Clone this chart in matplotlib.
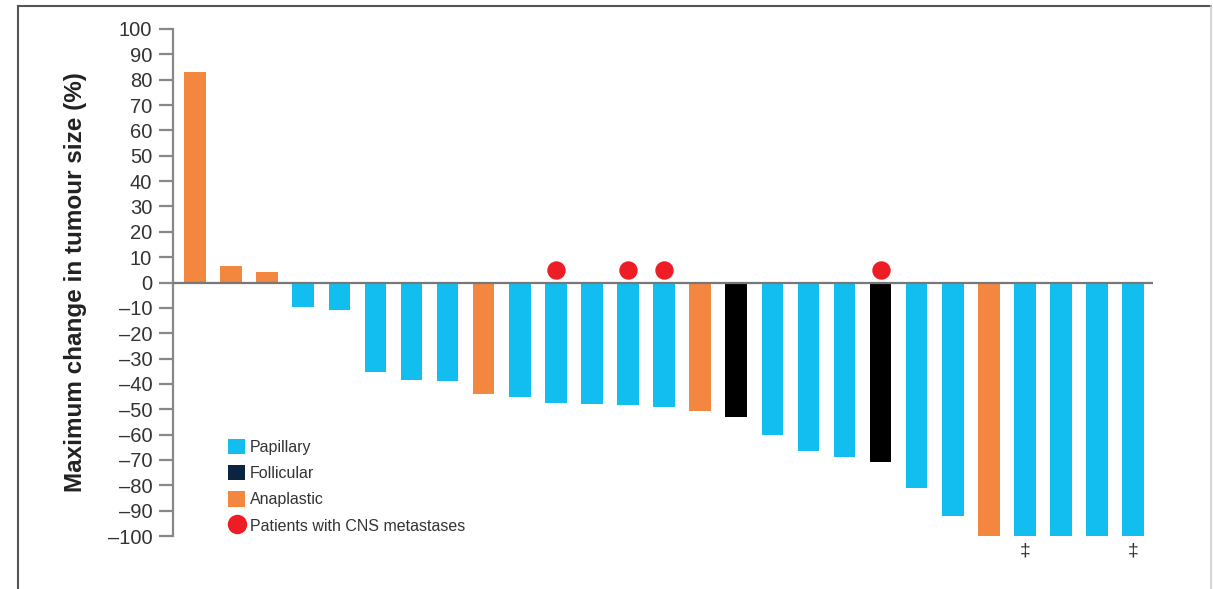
import numpy as np
import matplotlib
matplotlib.use('Agg')
import matplotlib.pyplot as plt
from matplotlib.patches import Patch
from matplotlib.lines import Line2D

plt.rcParams['font.family'] = ['Liberation Sans', 'DejaVu Sans']

# maximum change in tumour size per patient (%)
values = [83, 6.5, 4, -9.5, -11, -35.5, -38.5, -39, -44, -45, -47.5, -48, -48.5, -49,
          -50.5, -53, -60, -66.5, -69, -71, -81, -92, -100, -100, -100, -100, -100]
histology = ['A', 'A', 'A', 'P', 'P', 'P', 'P', 'P', 'A', 'P', 'P', 'P', 'P', 'P',
             'A', 'F', 'P', 'P', 'P', 'F', 'P', 'P', 'A', 'P', 'P', 'P', 'P']
cns_patients = [10, 12, 13, 19]
dagger_patients = [23, 26]

bar_colours = {'P': '#12BDEF', 'F': '#000000', 'A': '#F3873F'}
legend_colours = {'P': '#12BDEF', 'F': '#0B2540', 'A': '#F3873F'}
legend_names = {'P': 'Papillary', 'F': 'Follicular', 'A': 'Anaplastic'}
RED = '#EE1C25'

W, H = 1213, 589
fig = plt.figure(figsize=(W / 100, H / 100), dpi=100)
ax = fig.add_axes([173 / W, 1 - 536 / H, (1153 - 173) / W, (536 - 29) / H])

x = np.arange(len(values))
ax.bar(x, values, width=0.6, color=[bar_colours[h] for h in histology], zorder=2)
ax.axhline(0, color='#777777', lw=1.6, zorder=3)

ax.scatter(x[cns_patients], [5] * len(cns_patients), s=150, color=RED, zorder=4,
           clip_on=False)
for i in dagger_patients:
    ax.text(x[i], -106, '\u2021', ha='center', va='center', fontsize=14,
            color='#333333', clip_on=False)

ax.set_xlim(-0.61, len(values) - 0.45)
ax.set_ylim(-100, 100)
ax.set_yticks(np.arange(-100, 101, 10))
ax.set_yticklabels([str(t).replace('-', '\u2013') for t in range(-100, 101, 10)])
ax.set_xticks([])

for s in ['top', 'right', 'bottom']:
    ax.spines[s].set_visible(False)
ax.spines['left'].set_color('#888888')
ax.spines['left'].set_linewidth(1.6)
ax.tick_params(axis='y', length=10, width=1.6, color='#888888', labelsize=14.5,
               labelcolor='#333333', pad=5)

ax.set_ylabel('Maximum change in tumour size (%)', fontsize=17.5, fontweight='bold',
              color='#222222')
ax.yaxis.set_label_coords(-0.088, 0.5)

handles = [Patch(facecolor=legend_colours[k], edgecolor='none') for k in ['P', 'F', 'A']]
handles.append(Line2D([], [], marker='o', color='none', markerfacecolor=RED,
                      markeredgecolor='none', markersize=14))
labels = [legend_names[k] for k in ['P', 'F', 'A']] + ['Patients with CNS metastases']
ax.legend(handles, labels, loc='upper left', bbox_to_anchor=(0.056, 0.192), frameon=False,
          fontsize=11.5, handlelength=1.1, handleheight=1.1, labelspacing=0.64,
          handletextpad=0.3, borderpad=0, borderaxespad=0, labelcolor='#333333')

# outer frame of the picture
fig.add_artist(Line2D([18 / W, 18 / W], [0, 1 - 6 / H], color='#555555', lw=1.5))
fig.add_artist(Line2D([18 / W, 1211 / W], [1 - 6 / H, 1 - 6 / H], color='#555555', lw=1.5))
fig.add_artist(Line2D([1211 / W, 1211 / W], [0, 1 - 6 / H], color='#cccccc', lw=1.2))

fig.savefig('out.png', dpi=100)
